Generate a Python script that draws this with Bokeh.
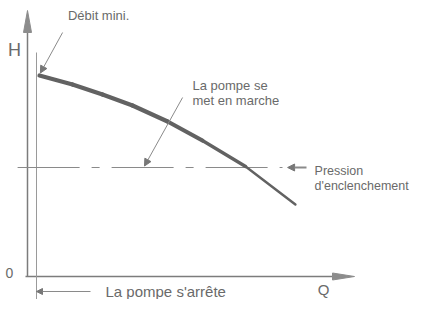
from bokeh.plotting import figure
from bokeh.models import Range1d, Arrow, NormalHead, ColumnDataSource
from bokeh.core.properties import value
from bokeh.embed import file_html
from bokeh.resources import INLINE

# ---- data (arbitrary units: Q = flow, H = head) ----
q_curve = [0.4, 1.5, 2.5, 3.5, 4.67, 5.83, 7.27, 8.93]
h_curve = [8.04, 7.68, 7.28, 6.84, 6.20, 5.44, 4.40, 2.88]
q_debit_mini = 0.3          # minimum flow line
h_debit_top = 8.96
h_pression = 4.36           # switch-on pressure
q_pression_end = 8.5
q_axis_end = 10.9
h_axis_end = 10.64

labels_text = ["Débit mini.", "H", "0", "Q", "La pompe s'arrête",
               "La pompe se", "met en marche", "Pression", "d'enclenchement"]

# ---- layout ----
W, H = 411, 299
x0, x1 = -0.9, 12.8
y0, y1 = -0.92, 11.04
dxp = (x1 - x0) / W
dyp = (y1 - y0) / H

GREY = "#6a6a6a"
FONT = value("Liberation Sans")

p = figure(width=W, height=H, x_range=Range1d(x0, x1), y_range=Range1d(y0, y1),
           output_backend="svg", toolbar_location=None,
           x_axis_type=None, y_axis_type=None, min_border=0)
p.grid.visible = False
p.outline_line_color = None
p.background_fill_color = "white"
p.border_fill_color = "white"

AX = "#7c7c7c"
# axes drawn as lines
p.line([0, 0], [0, h_axis_end - 20 * dyp], line_color=AX, line_width=1.5)
p.line([-2 * dxp, q_axis_end - 20 * dxp], [0, 0], line_color=AX, line_width=1.5)
# axis arrow heads (narrow triangles)
p.patch([0, -4 * dxp, 4 * dxp], [h_axis_end, h_axis_end - 22 * dyp, h_axis_end - 22 * dyp],
        fill_color="#8c8c8c", line_color="#8c8c8c")
p.patch([q_axis_end, q_axis_end - 22 * dxp, q_axis_end - 22 * dxp], [0, 3.5 * dyp, -3.5 * dyp],
        fill_color="#8c8c8c", line_color="#8c8c8c")

# minimum flow vertical line
p.line([q_debit_mini, q_debit_mini], [y0, h_debit_top], line_color="#9a9a9a", line_width=1)

# switch-on pressure dash-dot line
p.line([-0.33, q_pression_end], [h_pression, h_pression], line_color="#8a8a8a",
       line_width=1.2, line_dash="62 12 8 12")

# pump curve (tapering stroke)
n = len(q_curve) - 1
widths = [4.2 - 2.6 * max(0, i - 4) / (n - 4) for i in range(n)]
p.segment(x0=q_curve[:-1], y0=h_curve[:-1], x1=q_curve[1:], y1=h_curve[1:],
          line_color="#626262", line_width=widths, line_cap="round")

# annotation arrows
def arrow(xs, ys, xe, ye, size=7, lw=1):
    p.add_layout(Arrow(end=NormalHead(size=size, fill_color="#777777", line_color="#777777"),
                       x_start=xs, y_start=ys, x_end=xe, y_end=ye,
                       line_color="#8a8a8a", line_width=lw))

arrow(1.17, 9.76, q_curve[0] + 0.03, h_curve[0] + 0.1)              # Débit mini.
arrow(5.17, 7.16, 3.9, h_pression + 0.06)                          # La pompe se met en marche
arrow(9.3, h_pression, 8.67, h_pression, lw=1.8)                   # Pression d'enclenchement
arrow(2.1, -0.6, q_debit_mini, -0.6, size=6)                       # La pompe s'arrête

# texts
src = ColumnDataSource(dict(
    x=[2.37, -0.43, -0.6, 9.87, 2.6, 5.5, 5.5, 9.57, 9.57],
    y=[10.44, 9.08, 0.16, -0.52, -0.58, 7.64, 7.04, 4.24, 3.64],
    text=labels_text,
    align=["center", "center", "center", "center", "left", "left", "left", "left", "left"],
    size=["13px", "18px", "14px", "15px", "15px", "13px", "13px", "12.5px", "12.5px"],
))
p.text(x="x", y="y", text="text", source=src, text_align="align",
       text_baseline="middle", text_font_size="size", text_color=GREY, text_font=FONT)

open("out.html", "w").write(file_html(p, INLINE))
